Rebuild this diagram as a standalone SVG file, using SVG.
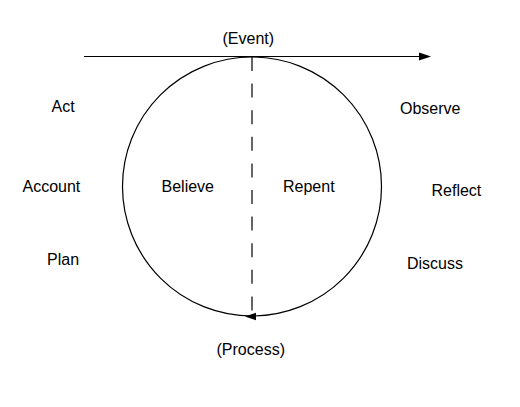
<svg xmlns="http://www.w3.org/2000/svg" width="520" height="407" viewBox="0 0 520 407">
<style>
text{font-family:"Liberation Sans",Arial,sans-serif;font-size:16px;fill:#000}
.ln{stroke:#000;stroke-width:1.2;fill:none}
.ah{fill:#000;stroke:none}
</style>
<rect width="520" height="407" fill="#fff"/>
<g id="cycle">
<circle class="ln" cx="252" cy="186.5" r="129.5"/>
</g>
<g id="connectors">
<line class="ln" x1="84" y1="56.5" x2="422" y2="56.5"/>
<polygon class="ah" points="431,56.5 419,52.5 419,60.5"/>
<line class="ln" x1="252" y1="57" x2="252" y2="312" stroke-dasharray="14 12.6"/>
<polygon class="ah" points="245,316.5 256,312.8 256,320.2"/>
</g>
<g id="event"><text x="222.5" y="44">(Event)</text></g>
<g id="process"><text x="216.5" y="355">(Process)</text></g>
<g id="believe"><text x="161.5" y="192">Believe</text></g>
<g id="repent"><text x="283" y="192">Repent</text></g>
<g id="act"><text x="51.5" y="112">Act</text></g>
<g id="account"><text x="22.5" y="192">Account</text></g>
<g id="plan"><text x="47" y="265">Plan</text></g>
<g id="observe"><text x="400" y="114">Observe</text></g>
<g id="reflect"><text x="431.5" y="196">Reflect</text></g>
<g id="discuss"><text x="407" y="269">Discuss</text></g>
</svg>
